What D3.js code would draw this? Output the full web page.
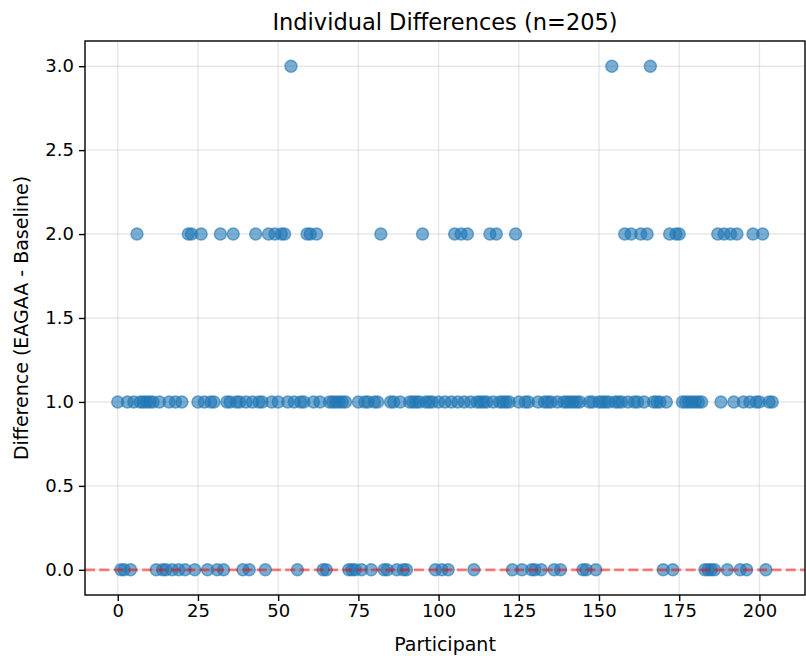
<!DOCTYPE html>
<html>
<head>
<meta charset="utf-8">
<script src="https://cdn.jsdelivr.net/npm/d3@7"></script>
<style>
  body { margin: 0; background: #fff; }
  text { font-family: "DejaVu Sans", sans-serif; fill: #000; }
</style>
</head>
<body>
<div id="chart"></div>
<script>
// Difference per participant (EAGAA - Baseline), participant index 0..204
const differences = [
  1,0,0,1,0,1,2,1,1,1,
  1,1,0,1,0,0,1,0,1,0,
  1,0,2,2,0,1,2,1,0,1,
  1,0,2,0,1,1,2,1,1,0,
  1,0,1,2,1,1,0,2,1,2,
  1,2,2,1,3,1,0,1,1,2,
  2,1,2,1,0,0,1,1,1,1,
  1,1,0,0,0,1,0,1,1,0,
  1,1,2,0,0,1,1,0,1,0,
  0,1,1,1,1,2,1,1,1,0,
  1,0,1,0,1,2,1,2,1,2,
  1,0,1,1,1,1,2,1,2,1,
  1,1,1,0,2,1,0,1,1,0,
  0,1,0,1,1,1,0,1,0,1,
  1,1,1,1,1,0,0,1,1,0,
  1,1,1,1,3,1,1,1,2,1,
  2,1,1,2,1,2,3,1,1,1,
  0,1,2,0,2,2,1,1,1,1,
  1,1,1,0,0,0,0,2,1,2,
  0,2,1,2,0,1,0,1,2,1,
  1,2,0,1,1
];
const participants = differences.map((d, i) => i);
const xTicks = [0, 25, 50, 75, 100, 125, 150, 175, 200];
const yTicks = [0.0, 0.5, 1.0, 1.5, 2.0, 2.5, 3.0];

const W = 806, H = 656;
const margin = {top: 41, right: 1, bottom: 61, left: 85},
    width = W - margin.left - margin.right,
    height = H - margin.top - margin.bottom;

const svg = d3.select('#chart').append('svg')
    .attr('width', W)
    .attr('height', H);

const g = svg.append('g')
    .attr('transform', 'translate(' + margin.left + ',' + margin.top + ')');

// matplotlib style 5% padding
const xPad = (d3.max(participants) - d3.min(participants)) * 0.05;
const x = d3.scaleLinear()
    .domain([d3.min(participants) - xPad, d3.max(participants) + xPad])
    .range([0, width]);

const y = d3.scaleLinear()
    .domain([-0.15, 3.15])
    .range([height, 0]);

// grid
g.append('g').selectAll('line')
    .data(xTicks)
  .enter().append('line')
    .attr('x1', d => x(d)).attr('x2', d => x(d))
    .attr('y1', 0).attr('y2', height)
    .attr('stroke', '#b0b0b0').attr('stroke-opacity', 0.3).attr('stroke-width', 1.4);

g.append('g').selectAll('line')
    .data(yTicks)
  .enter().append('line')
    .attr('x1', 0).attr('x2', width)
    .attr('y1', d => y(d)).attr('y2', d => y(d))
    .attr('stroke', '#b0b0b0').attr('stroke-opacity', 0.3).attr('stroke-width', 1.4);

// points
g.append('g').selectAll('circle')
    .data(participants)
  .enter().append('circle')
    .attr('cx', d => x(d))
    .attr('cy', (d, i) => y(differences[i]))
    .attr('r', 6)
    .attr('fill', '#1f77b4').attr('fill-opacity', 0.6)
    .attr('stroke', '#1f77b4').attr('stroke-opacity', 0.6).attr('stroke-width', 1.4);

// zero reference line
g.append('line')
    .attr('x1', 0).attr('x2', width)
    .attr('y1', y(0)).attr('y2', y(0))
    .attr('stroke', 'red').attr('stroke-opacity', 0.5)
    .attr('stroke-width', 2.7).attr('stroke-dasharray', '10,4.3');

// axes
const xAxis = d3.axisBottom(x).tickValues(xTicks).tickSize(6).tickPadding(4).tickFormat(d3.format('d'));
const yAxis = d3.axisLeft(y).tickValues(yTicks).tickSize(6).tickPadding(5).tickFormat(d3.format('.1f'));

const gx = g.append('g')
    .attr('transform', 'translate(0,' + height + ')')
    .call(xAxis);
const gy = g.append('g').call(yAxis);

[gx, gy].forEach(a => {
  a.select('.domain').remove();
  a.selectAll('line').attr('stroke', '#000').attr('stroke-width', 1.4);
  a.selectAll('text').attr('font-size', 18).attr('font-family', '"DejaVu Sans", sans-serif').attr('fill', '#000');
});
gx.selectAll('text').attr('dy', '0.68em');

g.append('rect')
    .attr('width', width).attr('height', height)
    .attr('fill', 'none').attr('stroke', '#000').attr('stroke-width', 1.4);

// labels
svg.append('text')
    .attr('x', margin.left + width / 2).attr('y', 30)
    .attr('text-anchor', 'middle').attr('font-size', 22.5)
    .text('Individual Differences (n=205)');

svg.append('text')
    .attr('x', margin.left + width / 2).attr('y', 651)
    .attr('text-anchor', 'middle').attr('font-size', 19)
    .text('Participant');

svg.append('text')
    .attr('transform', 'translate(28,' + (margin.top + height / 2) + ') rotate(-90)')
    .attr('text-anchor', 'middle').attr('font-size', 19)
    .text('Difference (EAGAA - Baseline)');
</script>
</body>
</html>
